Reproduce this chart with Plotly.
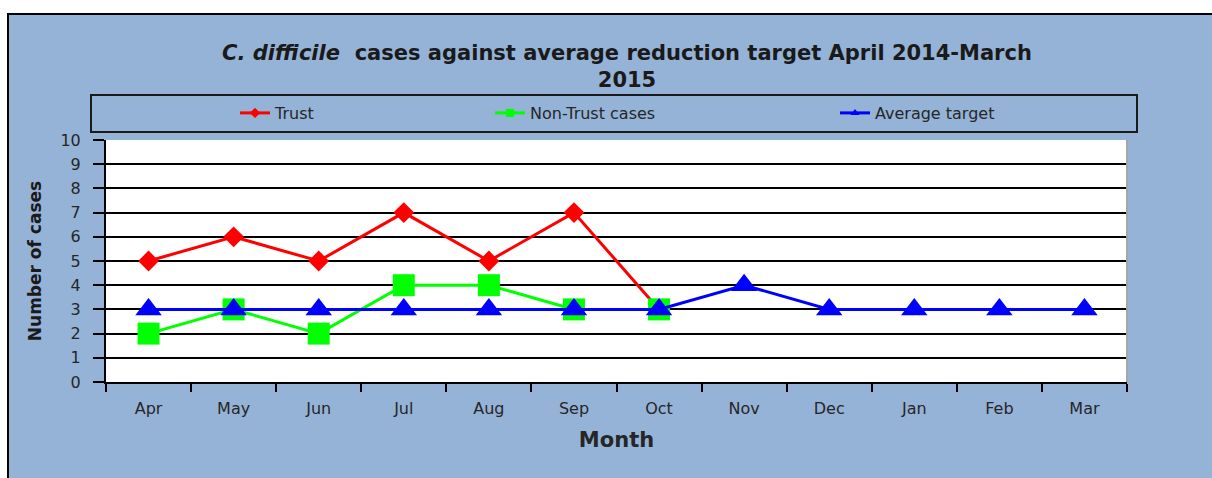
import plotly.graph_objects as go

months = ["Apr", "May", "Jun", "Jul", "Aug", "Sep", "Oct", "Nov", "Dec", "Jan", "Feb", "Mar"]
trust = [5, 6, 5, 7, 5, 7, 3, None, None, None, None, None]
non_trust = [2, 3, 2, 4, 4, 3, 3, None, None, None, None, None]
avg_target = [3, 3, 3, 3, 3, 3, 3, 4, 3, 3, 3, 3]
y_ticks = list(range(0, 11))

W, H = 1212, 478
L, R, T, B = 106, 85, 140, 96
PW, PH = W - L - R, H - T - B


def px(x):
    return (x - L) / PW


def py(y):
    return (H - B - y) / PH


FONT = "DejaVu Sans"
TXT = "#262626"

fig = go.Figure()

series = [
    ("Trust", trust, "#FF0000", "diamond", 16, "legend"),
    ("Non-Trust cases", non_trust, "#00FF00", "square", 22, "legend2"),
    ("Average target", avg_target, "#0000FF", "triangle-up", 23, "legend3"),
]

for name, vals, col, sym, size, lg in series:
    fig.add_trace(go.Scatter(
        x=months, y=vals, mode="lines+markers", name=name,
        line=dict(color=col, width=3),
        marker=dict(color=col, symbol=sym, size=size),
        showlegend=False, connectgaps=False,
    ))

for name, vals, col, sym, size, lg in series:
    fig.add_trace(go.Scatter(
        x=[None], y=[None], mode="lines+markers", name=name,
        line=dict(color=col, width=3),
        marker=dict(color=col, symbol=sym, size=8),
        showlegend=True, legend=lg,
    ))

legend_starts = [240, 495, 840]
leg_common = dict(orientation="h", yanchor="middle", xanchor="left",
                  bgcolor="rgba(0,0,0,0)", borderwidth=0,
                  font=dict(family=FONT, size=16, color=TXT))
ly = py(113)

fig.update_layout(
    width=W, height=H,
    margin=dict(l=L, r=R, t=T, b=B),
    paper_bgcolor="white",
    plot_bgcolor="white",
    title=dict(
        text="<i>C. difficile</i>  cases against average reduction target April 2014-March<br>2015",
        x=627 / W, xanchor="center", xref="container",
        y=1 - 60 / H, yanchor="middle", yref="container",
        font=dict(family=FONT, size=21, color="#1a1a1a", weight="bold"),
    ),
    legend=dict(x=px(legend_starts[0] - 5), y=ly, **leg_common),
    legend2=dict(x=px(legend_starts[1] - 5), y=ly, **leg_common),
    legend3=dict(x=px(legend_starts[2] - 5), y=ly, **leg_common),
    xaxis=dict(
        categoryorder="array", categoryarray=months,
        range=[-0.5, 11.5], tickson="boundaries",
        ticks="outside", ticklen=8, tickwidth=2, tickcolor="black",
        showline=True, linecolor="black", linewidth=2,
        showgrid=False, ticklabelstandoff=11,
        tickfont=dict(family=FONT, size=16, color=TXT),
        title=dict(text="Month", standoff=15,
                   font=dict(family=FONT, size=21, color=TXT, weight="bold")),
    ),
    yaxis=dict(
        range=[0, 10], tickvals=y_ticks, ticktext=[str(v) for v in y_ticks],
        ticks="outside", ticklen=11, tickwidth=2, tickcolor="black",
        showline=True, linecolor="black", linewidth=2,
        showgrid=True, gridcolor="black", gridwidth=1.6,
        zeroline=False, ticklabelstandoff=9,
        tickfont=dict(family=FONT, size=16, color=TXT),
        title=dict(text="Number of cases", standoff=14,
                   font=dict(family=FONT, size=17, color="#1a1a1a", weight="bold")),
    ),
    shapes=[
        dict(type="rect", xref="paper", yref="paper", layer="below",
             x0=px(8), x1=px(W + 20), y0=py(H + 20), y1=py(14),
             fillcolor="#95B3D7", line=dict(color="black", width=2)),
        dict(type="rect", xref="paper", yref="paper", layer="below",
             x0=0, x1=1, y0=0, y1=1,
             fillcolor="white", line=dict(width=0)),
        dict(type="rect", xref="paper", yref="paper", layer="above",
             x0=px(91), x1=px(1137), y0=py(132), y1=py(95),
             fillcolor="rgba(0,0,0,0)", line=dict(color="#1a1a1a", width=2)),
        dict(type="line", xref="paper", yref="paper", layer="above",
             x0=1, x1=1, y0=0, y1=1, line=dict(color="#A6A6A6", width=2)),
    ],
)

fig.write_html(
    "out.html",
    config={"displayModeBar": False},
    post_script="document.body.style.margin='0';document.body.style.overflow='hidden';",
)
